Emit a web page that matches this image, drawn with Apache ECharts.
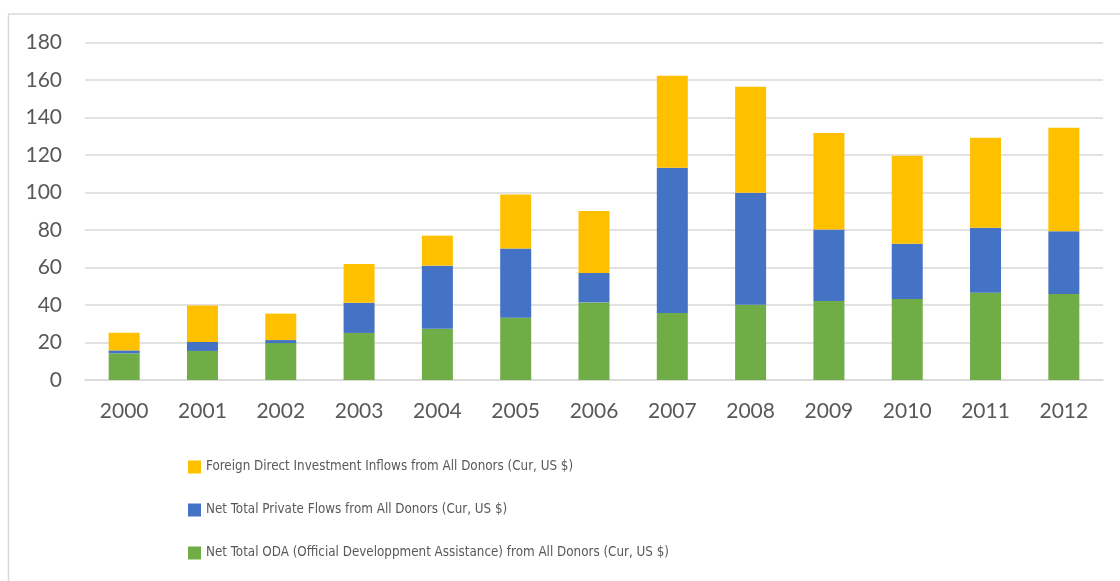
<!DOCTYPE html>
<html>
<head>
<meta charset="utf-8">
<script src="https://cdn.jsdelivr.net/npm/echarts@6/dist/echarts.min.js"></script>
<style>
html,body{margin:0;padding:0;background:#fff;}
#chart{width:1120px;height:581px;}
</style>
</head>
<body>
<div id="chart"></div>
<script>
const years = ['2000','2001','2002','2003','2004','2005','2006','2007','2008','2009','2010','2011','2012'];
const odaValues = [14.2, 15.5, 19.7, 25.1, 27.4, 33.2, 41.4, 35.7, 40.2, 42.1, 43.2, 46.6, 45.9];
const privateValues = [1.6, 4.8, 1.6, 16.1, 33.6, 37.0, 15.7, 77.5, 59.7, 38.2, 29.5, 34.6, 33.4];
const fdiValues = [9.4, 19.5, 14.1, 20.7, 16.0, 28.8, 33.0, 49.1, 56.5, 51.4, 46.9, 48.0, 55.3];
const yTicks = {min: 0, max: 180, interval: 20};
const names = {
  fdi: 'Foreign Direct Investment Inflows from All Donors (Cur, US $)',
  priv: 'Net Total Private Flows from All Donors (Cur, US $)',
  oda: 'Net Total ODA (Official Developpment Assistance) from All Donors (Cur, US $)'
};

const axisFont = "Lato, 'Open Sans', sans-serif";
const legendFont = "'DejaVu Sans Condensed', 'Liberation Sans', sans-serif";
const chart = echarts.init(document.getElementById('chart'));
const barBase = {type: 'bar', stack: 'total', barWidth: 31, emphasis: {disabled: true}};
chart.setOption({
  animation: false,
  backgroundColor: '#ffffff',
  grid: {left: 85, right: 17, top: 42.5, bottom: 201, containLabel: false},
  graphic: [
    {type: 'line', shape: {x1: 8, y1: 14, x2: 1120, y2: 14}, style: {stroke: '#d9d9d9', lineWidth: 1.5}, silent: true},
    {type: 'line', shape: {x1: 8.5, y1: 14, x2: 8.5, y2: 581}, style: {stroke: '#d9d9d9', lineWidth: 1.5}, silent: true}
  ],
  legend: {
    orient: 'vertical',
    left: 188,
    top: 457,
    padding: 0,
    itemWidth: 13,
    itemHeight: 13,
    itemGap: 23,
    icon: 'rect',
    selectedMode: false,
    data: [names.fdi, names.priv, names.oda],
    textStyle: {fontFamily: legendFont, fontSize: 13.3, color: '#595959', lineHeight: 20}
  },
  xAxis: {
    type: 'category',
    data: years,
    axisLine: {show: true, lineStyle: {color: '#d9d9d9', width: 1.5}},
    axisTick: {show: false},
    axisLabel: {fontFamily: axisFont, fontSize: 21, color: '#595959', margin: 21}
  },
  yAxis: {
    type: 'value',
    min: yTicks.min, max: yTicks.max, interval: yTicks.interval,
    axisLine: {show: false},
    axisTick: {show: false},
    splitLine: {lineStyle: {color: '#d9d9d9', width: 1.5}},
    axisLabel: {fontFamily: axisFont, fontSize: 21, color: '#595959', margin: 23}
  },
  series: [
    Object.assign({}, barBase, {name: names.oda, data: odaValues, itemStyle: {color: '#70AD47'}}),
    Object.assign({}, barBase, {name: names.priv, data: privateValues, itemStyle: {color: '#4472C4'}}),
    Object.assign({}, barBase, {name: names.fdi, data: fdiValues, itemStyle: {color: '#FFC000'}})
  ]
});
</script>
</body>
</html>
